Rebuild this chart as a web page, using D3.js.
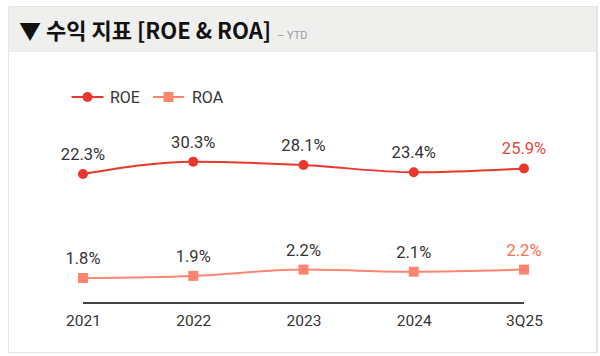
<!DOCTYPE html>
<html><head><meta charset="utf-8">
<script src="https://cdn.jsdelivr.net/npm/d3@7"></script>
<style>
html,body{margin:0;padding:0;background:#fff;}
svg{display:block;}
</style></head>
<body>
<svg id="chart" width="600" height="356"></svg>
<script>
const categories = ["2021", "2022", "2023", "2024", "3Q25"];
const roeValues = [22.3, 30.3, 28.1, 23.4, 25.9];
const roaValues = [1.8, 1.9, 2.2, 2.1, 2.2];
const seriesNames = ["ROE", "ROA"];
const titleText = "▼ 수익 지표 [ROE & ROA]";
const subtitleText = "– YTD";

const svg = d3.select("#chart");
const font = "Roboto, 'Noto Sans CJK KR', sans-serif";
const roeColor = "#e8382b", roaColor = "#ff8570";
const roeLabelLast = "#e2483c", roaLabelLast = "#f7704f";

// card
svg.append("rect").attr("x", 8.5).attr("y", 6.5).attr("width", 589).attr("height", 346)
  .attr("fill", "#fff").attr("stroke", "#e6e6e4").attr("stroke-width", 1);
svg.append("rect").attr("x", 9).attr("y", 7).attr("width", 588).attr("height", 45).attr("fill", "#efefed");
svg.append("line").attr("x1", 597).attr("x2", 597).attr("y1", 6).attr("y2", 353)
  .attr("stroke", "#e4e4e2").attr("stroke-width", 2);

// title
const title = svg.append("text").attr("x", 19).attr("y", 39)
  .attr("font-family", "'Noto Sans CJK KR', sans-serif").attr("font-weight", 700)
  .attr("font-size", 22).attr("fill", "#111").text(titleText);
const tw = title.node().getComputedTextLength();
svg.append("text").attr("x", 19 + tw + 6).attr("y", 39)
  .attr("font-family", font).attr("font-size", 11).attr("fill", "#9a9a9a").text(subtitleText);

// scales
const x = d3.scalePoint().domain(categories).range([83, 524]);
const yRoe = d3.scaleLinear().domain([0, 60]).range([208.3, 115.9]);
const yRoa = d3.scaleLinear().domain([0, 4]).range([315.8, 231.8]);

// x axis
const axisG = svg.append("g").attr("transform", "translate(0,303)")
  .call(d3.axisBottom(x).tickSize(0).tickPadding(12));
axisG.select(".domain").attr("stroke", "#444").attr("stroke-width", 2)
  .attr("d", `M${x.range()[0]},0H${x.range()[1]}`);
axisG.selectAll("text").attr("font-family", font).attr("font-size", 15.5).attr("fill", "#333");

// lines
const lineRoe = d3.line().x((d, i) => x(categories[i])).y(d => yRoe(d)).curve(d3.curveMonotoneX);
const lineRoa = d3.line().x((d, i) => x(categories[i])).y(d => yRoa(d)).curve(d3.curveMonotoneX);
svg.append("path").attr("d", lineRoe(roeValues)).attr("fill", "none").attr("stroke", roeColor).attr("stroke-width", 2);
svg.append("path").attr("d", lineRoa(roaValues)).attr("fill", "none").attr("stroke", roaColor).attr("stroke-width", 2);

svg.append("g").selectAll("circle").data(roeValues).join("circle")
  .attr("cx", (d, i) => x(categories[i])).attr("cy", d => yRoe(d)).attr("r", 5).attr("fill", roeColor);
svg.append("g").selectAll("rect").data(roaValues).join("rect")
  .attr("x", (d, i) => x(categories[i]) - 5).attr("y", d => yRoa(d) - 5)
  .attr("width", 10).attr("height", 10).attr("fill", roaColor);

// value labels
svg.append("g").selectAll("text").data(roeValues).join("text")
  .attr("x", (d, i) => x(categories[i])).attr("y", d => yRoe(d) - 14)
  .attr("text-anchor", "middle").attr("font-family", font).attr("font-size", 16.5)
  .attr("fill", (d, i) => i === roeValues.length - 1 ? roeLabelLast : "#333")
  .text(d => d.toFixed(1) + "%");
svg.append("g").selectAll("text").data(roaValues).join("text")
  .attr("x", (d, i) => x(categories[i])).attr("y", d => yRoa(d) - 14)
  .attr("text-anchor", "middle").attr("font-family", font).attr("font-size", 16.5)
  .attr("fill", (d, i) => i === roaValues.length - 1 ? roaLabelLast : "#333")
  .text(d => d.toFixed(1) + "%");

// legend
const lg = svg.append("g").attr("transform", "translate(0,97)");
lg.append("line").attr("x1", 71.5).attr("x2", 103.5).attr("stroke", roeColor).attr("stroke-width", 2);
lg.append("circle").attr("cx", 87.5).attr("cy", 0).attr("r", 5).attr("fill", roeColor);
lg.append("text").attr("x", 110).attr("y", 5.5).attr("font-family", font).attr("font-size", 16).attr("fill", "#333").text(seriesNames[0]);
lg.append("line").attr("x1", 153).attr("x2", 184).attr("stroke", roaColor).attr("stroke-width", 2);
lg.append("rect").attr("x", 163.5).attr("y", -5).attr("width", 10).attr("height", 10).attr("fill", roaColor);
lg.append("text").attr("x", 192).attr("y", 5.5).attr("font-family", font).attr("font-size", 16).attr("fill", "#333").text(seriesNames[1]);
</script>
</body></html>
